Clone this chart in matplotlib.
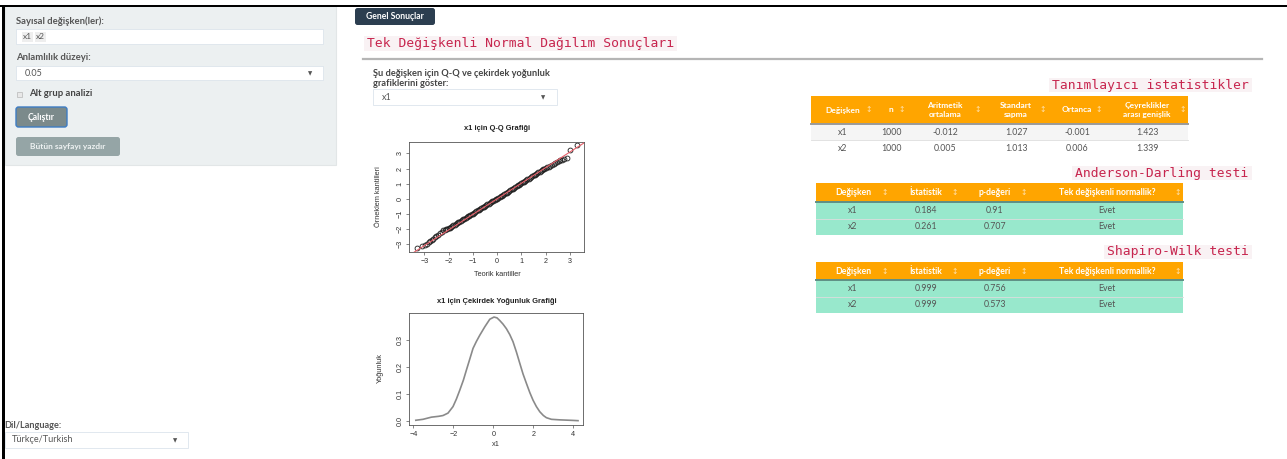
import matplotlib
matplotlib.use("Agg")
import matplotlib.pyplot as plt
from matplotlib.patches import Rectangle, FancyBboxPatch

W, H = 1287, 459

# ---- data ----
selected_vars = ["x1", "x2"]
alpha_level = "0.05"
language = "Türkçe/Turkish"
plot_var = "x1"

desc_headers = ["Değişken", "n", "Aritmetik\nortalama", "Standart\nsapma", "Ortanca",
                "Çeyreklikler\narası genişlik"]
desc_rows = [["x1", "1000", "-0.012", "1.027", "-0.001", "1.423"],
             ["x2", "1000", "0.005", "1.013", "0.006", "1.339"]]

test_headers = ["Değişken", "İstatistik", "p-değeri", "Tek değişkenli normallik?"]
ad_rows = [["x1", "0.184", "0.91", "Evet"],
           ["x2", "0.261", "0.707", "Evet"]]
sw_rows = [["x1", "0.999", "0.756", "Evet"],
           ["x2", "0.999", "0.573", "Evet"]]

# Q-Q plot (theoretical vs sample quantiles)
qq_theo = [-3.29, -3.09, -2.97, -2.88, -2.81, -2.75, -2.69, -2.63, -2.57, -2.50,
           -2.43, -2.36, -2.29, -2.22, -2.15,
           -2.10, -2.05, -2.00, -1.95, -1.90, -1.85, -1.80, -1.75, -1.70, -1.65,
           -1.60, -1.55, -1.50, -1.45, -1.40, -1.35, -1.30, -1.25, -1.20, -1.15,
           -1.10, -1.05, -1.00, -0.95, -0.90, -0.85, -0.80, -0.75, -0.70, -0.65,
           -0.60, -0.55, -0.50, -0.45, -0.40, -0.35, -0.30, -0.25, -0.20, -0.15,
           -0.10, -0.05, 0.00, 0.05, 0.10, 0.15, 0.20, 0.25, 0.30, 0.35,
           0.40, 0.45, 0.50, 0.55, 0.60, 0.65, 0.70, 0.75, 0.80, 0.85,
           0.90, 0.95, 1.00, 1.05, 1.10, 1.15, 1.20, 1.25, 1.30, 1.35,
           1.40, 1.45, 1.50, 1.55, 1.60, 1.65, 1.70, 1.75, 1.80, 1.85,
           1.90, 1.95, 2.00, 2.05,
           2.12, 2.19, 2.26, 2.33, 2.40, 2.47, 2.54, 2.61, 2.68, 2.76,
           2.86, 3.00, 3.29]
qq_samp = [-3.22, -3.12, -3.02, -2.95, -2.88, -2.80, -2.72, -2.63, -2.55, -2.46,
           -2.37, -2.27, -2.18, -2.09, -2.05,
           -2.02, -1.99, -1.95, -1.91, -1.86, -1.81, -1.76, -1.71, -1.66, -1.61,
           -1.56, -1.51, -1.46, -1.41, -1.36, -1.31, -1.26, -1.21, -1.16, -1.11,
           -1.06, -1.01, -0.97, -0.92, -0.87, -0.82, -0.77, -0.72, -0.67, -0.62,
           -0.57, -0.52, -0.47, -0.42, -0.37, -0.32, -0.27, -0.22, -0.17, -0.12,
           -0.07, -0.02, 0.01, 0.06, 0.11, 0.16, 0.21, 0.26, 0.31, 0.36,
           0.41, 0.46, 0.51, 0.57, 0.62, 0.67, 0.72, 0.77, 0.83, 0.88,
           0.93, 0.98, 1.03, 1.08, 1.13, 1.18, 1.24, 1.29, 1.34, 1.39,
           1.44, 1.49, 1.54, 1.59, 1.65, 1.70, 1.75, 1.80, 1.85, 1.90,
           1.95, 1.99, 2.03, 2.07,
           2.13, 2.19, 2.25, 2.31, 2.36, 2.42, 2.48, 2.53, 2.58, 2.63,
           2.67, 3.22, 3.55]
qq_line_slope = 1.03
qq_line_intercept = 0.0

# kernel density curve
dens_x = [-3.88, -3.52, -3.10, -2.75, -2.52, -2.27, -2.02, -1.85, -1.68, -1.50,
          -1.35, -1.18, -1.02, -0.85, -0.68, -0.43, -0.18, 0.03, 0.18, 0.32,
          0.48, 0.65, 0.82, 0.98, 1.15, 1.32, 1.48, 1.65, 1.82, 1.98,
          2.15, 2.32, 2.50, 2.65, 2.90, 3.32, 3.98, 4.23]
dens_y = [0.0015, 0.005, 0.013, 0.016, 0.019, 0.028, 0.052, 0.080, 0.113, 0.150,
          0.187, 0.228, 0.267, 0.293, 0.316, 0.347, 0.375, 0.383, 0.380, 0.370,
          0.357, 0.340, 0.318, 0.292, 0.254, 0.212, 0.173, 0.138, 0.104, 0.076,
          0.052, 0.033, 0.019, 0.011, 0.005, 0.003, 0.001, 0.0]

UI = "Lato"
MONO = "DejaVu Sans Mono"
RF = "Liberation Sans"

fig = plt.figure(figsize=(W / 100, H / 100), dpi=100)
bg = fig.add_axes([0, 0, 1, 1])
bg.set_xlim(0, W)
bg.set_ylim(H, 0)
bg.axis("off")


def box(x0, y0, x1, y1, fc, ec="none", lw=0.8, z=1, rounded=False):
    if rounded:
        p = FancyBboxPatch((x0, y0), x1 - x0, y1 - y0, boxstyle="round,pad=0,rounding_size=2.5",
                           fc=fc, ec=ec, lw=lw, zorder=z)
    else:
        p = Rectangle((x0, y0), x1 - x0, y1 - y0, fc=fc, ec=ec, lw=lw, zorder=z)
    bg.add_patch(p)


def txt(x, y, s, size=6, color="#444444", ha="left", weight="normal", family=UI, **kw):
    bg.text(x, y, s, fontsize=size, color=color, ha=ha, va="center",
            fontweight=weight, family=family, zorder=5, **kw)


# ---- sidebar ----
box(5, 6, 336, 165, "#ecf0f1", "#e2e6e7")
txt(16, 21, "Sayısal değişken(ler):", 6.8, "#555555", weight="bold")
box(16, 29, 323, 44, "white", "#dce4ec", 0.6)
tx = 22
for v in selected_vars:
    box(tx, 31.5, tx + 11, 41.5, "#eeeeee", z=2)
    txt(tx + 5.5, 36.5, v, 6, "#555555", ha="center")
    tx += 12.5
txt(16, 58, "Anlamlılık düzeyi:", 6.8, "#555555", weight="bold")
box(16, 66, 323, 80, "white", "#dce4ec", 0.6)
txt(25, 73, alpha_level, 6.5, "#555555")
txt(310, 73.5, "▼", 4, "#555555", ha="center", family="DejaVu Sans")
box(17, 91.5, 22, 96.5, "#e8e8e8", "#b8b8b8", 0.5)
txt(29, 94, "Alt grup analizi", 6.8, "#444444", weight="bold")
box(16, 107, 67, 127, "#7b8a8b", "#3d7cc4", 1.0, rounded=True)
txt(41.5, 117, "Çalıştır", 6.2, "white", ha="center", weight="bold")
box(16, 137, 120, 156, "#95a5a6", rounded=True)
txt(68, 146.5, "Bütün sayfayı yazdır", 6.0, "#eef2f2", ha="center", weight="bold")

txt(4, 426, "Dil/Language:", 6.6, "#555555", weight="bold")
box(5, 432, 188, 448, "white", "#dce4ec", 0.6)
txt(12, 440, language, 6.6, "#555555")
txt(175, 440.5, "▼", 4, "#555555", ha="center", family="DejaVu Sans")

# ---- main panel header ----
box(355, 8, 435, 25, "#2c3e50", rounded=True)
txt(395, 16.5, "Genel Sonuçlar", 6.2, "white", ha="center", weight="bold")
box(364, 36, 677, 51, "#f9f2f4")
txt(367, 43.5, "Tek Değişkenli Normal Dağılım Sonuçları", 9.4, "#c7254e", family=MONO)
bg.plot([363, 1262], [59, 59], color="#b5b5b5", lw=1.6, zorder=2)

txt(373, 73, "Şu değişken için Q-Q ve çekirdek yoğunluk", 6.7, "#444444", weight="bold")
txt(373, 83, "grafiklerini göster:", 6.7, "#444444", weight="bold")
box(373, 89, 557, 104.5, "white", "#dce4ec", 0.6)
txt(382, 97, plot_var, 6.5, "#555555")
txt(543, 97.5, "▼", 4, "#555555", ha="center", family="DejaVu Sans")


# ---- tables ----
def label(x1, y, s):
    w = len(s) * 7.9 + 6
    box(x1 - w, y - 7, x1, y + 7, "#f9f2f4")
    txt(x1 - w + 3, y, s, 9.4, "#c7254e", family=MONO)


def table(x0, x1, y0, yh, row_h, headers, rows, centers, icons, row_fc, line_c, hsize):
    box(x0, y0, x1, yh, "#ffa500", z=1)
    for c, h, ic in zip(centers, headers, icons):
        txt(c, (y0 + yh) / 2, h, hsize, "white", ha="center", weight="bold", linespacing=1.2)
        txt(ic, (y0 + yh) / 2, "↕", 5.5, "#ffe2b0", ha="center", family="DejaVu Sans")
    bg.plot([x0, x1], [yh, yh], color=line_c, lw=1.4, zorder=3)
    for i, r in enumerate(rows):
        ya = yh + i * row_h
        box(x0, ya, x1, ya + row_h, row_fc[i], z=1)
        if i > 0:
            bg.plot([x0, x1], [ya, ya], color="#dddddd", lw=0.6, zorder=2)
        for c, v in zip(centers, r):
            txt(c, ya + row_h / 2, v, 6.3, "#555555", ha="center")


label(1252, 85, "Tanımlayıcı istatistikler")
table(811, 1188, 96, 124, 16.3, desc_headers, desc_rows,
      [843, 891, 945, 1016, 1077, 1147], [869, 902, 978, 1043, 1099, 1183],
      ["#f5f5f5", "white"], "#9a9a9a", 6.0)

label(1252, 173, "Anderson-Darling testi")
table(816, 1183, 183, 202, 16.5, test_headers, ad_rows,
      [853, 926, 995, 1107], [885, 955, 1024, 1178],
      ["#98e8cc", "#98e8cc"], "#5f8f85", 6.2)

label(1252, 251.5, "Shapiro-Wilk testi")
table(816, 1183, 262, 280, 16.5, test_headers, sw_rows,
      [853, 926, 995, 1107], [885, 955, 1024, 1178],
      ["#98e8cc", "#98e8cc"], "#5f8f85", 6.2)


# ---- R-style plots ----
def r_axes(x0, y0, x1, y1):
    ax = fig.add_axes([x0 / W, 1 - y1 / H, (x1 - x0) / W, (y1 - y0) / H])
    for s in ax.spines.values():
        s.set_linewidth(0.6)
        s.set_color("#555555")
    ax.tick_params(length=2.5, width=0.5, pad=1.5, labelsize=5.2, colors="#555555",
                   labelcolor="#333333", labelfontfamily=RF)
    return ax


qq = r_axes(409, 142, 584, 252)
qq.plot(qq_theo, qq_samp, "o", mfc="none", mec="#1a1a1a", ms=3.5, mew=0.6)
qq.axline((0, qq_line_intercept), slope=qq_line_slope, color="#e8606a", lw=0.8, zorder=4)
qq.set_xlim(-3.63, 3.58)
qq.set_ylim(-3.51, 3.75)
qq.set_xticks([-3, -2, -1, 0, 1, 2, 3])
qq.set_yticks([-3, -2, -1, 0, 1, 2, 3])
for lab in qq.get_yticklabels():
    lab.set_rotation(90)
    lab.set_va("center")
txt(497, 128, "x1 için Q-Q Grafiği", 5.4, "#222222", ha="center", weight="bold", family=RF)
txt(497, 274, "Teorik kantiller", 5.3, "#333333", ha="center", family=RF)
txt(378, 197, "Örneklem kantilleri", 5.3, "#333333", ha="center", family=RF, rotation=90)

de = r_axes(409, 313, 583, 425)
de.plot(dens_x, dens_y, color="#8a8a8a", lw=1.2)
de.set_xlim(-4.22, 4.48)
de.set_ylim(-0.016, 0.398)
de.set_xticks([-4, -2, 0, 2, 4])
de.set_yticks([0.0, 0.1, 0.2, 0.3])
de.set_yticklabels(["0.0", "0.1", "0.2", "0.3"])
for lab in de.get_yticklabels():
    lab.set_rotation(90)
    lab.set_va("center")
txt(497, 301.5, "x1 için Çekirdek Yoğunluk Grafiği", 5.4, "#222222", ha="center",
    weight="bold", family=RF)
txt(496, 445, plot_var, 5.3, "#333333", ha="center", family=RF)
txt(380, 368, "Yoğunluk", 5.3, "#333333", ha="center", family=RF, rotation=90)

# screenshot frame
bg.add_patch(Rectangle((0, 4.5), W, 2.2, fc="black", ec="none", zorder=6))
bg.add_patch(Rectangle((2, 4.5), 2.5, H, fc="black", ec="none", zorder=6))

fig.savefig("out.png", dpi=100)
